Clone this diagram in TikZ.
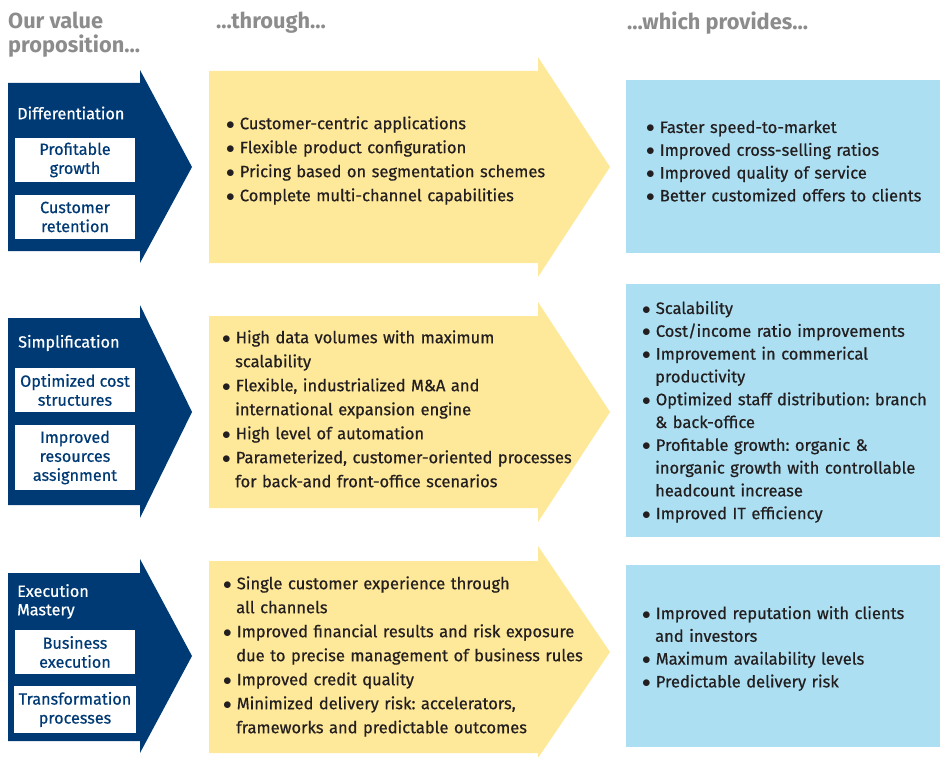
\documentclass[tikz,border=0pt]{standalone}
\usepackage{fontspec}
\setmainfont{Fira Sans}
\newfontfamily\semifont{Fira Sans}[FakeBold=0.6]
\usepackage{tikz}
\usetikzlibrary{positioning}

\definecolor{navy}{RGB}{0,58,117}
\definecolor{sand}{RGB}{254,232,153}
\definecolor{sky}{RGB}{172,223,242}
\definecolor{headgray}{RGB}{140,140,140}
\definecolor{ink}{RGB}{35,31,32}

% bullet list without extra space
\newenvironment{blist}{\begin{list}{$\bullet$}{\setlength{\leftmargin}{13pt}\setlength{\labelsep}{5pt}%
  \setlength{\labelwidth}{8pt}\setlength{\itemsep}{0pt}\setlength{\parsep}{0pt}%
  \setlength{\topsep}{0pt}\setlength{\partopsep}{0pt}}}{\end{list}}

\frenchspacing

\tikzset{
  header/.style={anchor=north west,inner sep=0pt,align=left,text=headgray,
    font=\bfseries\fontsize{21.8}{23.5}\selectfont},
  valuelabel/.style={anchor=west,inner sep=0pt,align=left,text=white,
    font=\semifont\fontsize{16.2}{18.5}\selectfont},
  valuebox/.style={fill=white,text=navy,align=center,inner sep=0pt,
    minimum width=120pt,font=\semifont\fontsize{16.2}{19}\selectfont},
  throughlist/.style={anchor=north west,inner sep=0pt,text width=380pt,text=ink,
    font=\semifont\fontsize{16.5}{24}\selectfont},
  provideslist/.style={anchor=north west,inner sep=0pt,text width=296pt,text=ink,
    font=\semifont\fontsize{16.5}{22.8}\selectfont}
}

\begin{document}
\begin{tikzpicture}[x=1pt,y=-1pt]
\useasboundingbox (0,0) rectangle (943,757);

% Define the columns
\pgfmathsetmacro{\Xleft}{8};
\pgfmathsetmacro{\Xneck}{140};
\pgfmathsetmacro{\Xtip}{192};
\pgfmathsetmacro{\Yleft}{209};
\pgfmathsetmacro{\Yneck}{538};
\pgfmathsetmacro{\Ytip}{610};

% column headers
\node[header] (hvalue) at (8,12) {Our value\\proposition...};
\node[header] (hthrough) at (216,12) {...through...};
\node[header] (hprovides) at (627,12) {...which provides...};

% draw the value arrows
\fill[navy] (\Xleft,83) -- (\Xneck,83) -- (\Xneck,70) -- (\Xtip,167)
            -- (\Xneck,263) -- (\Xneck,251) -- (\Xleft,251) -- cycle;
\fill[navy] (\Xleft,318) -- (\Xneck,318) -- (\Xneck,305) -- (\Xtip,412)
            -- (\Xneck,518) -- (\Xneck,505) -- (\Xleft,505) -- cycle;
\fill[navy] (\Xleft,573) -- (\Xneck,573) -- (\Xneck,559) -- (\Xtip,656)
            -- (\Xneck,753) -- (\Xneck,741) -- (\Xleft,741) -- cycle;

% draw the yellow arrows
\fill[sand] (\Yleft,71) -- (\Yneck,71) -- (\Yneck,57) -- (\Ytip,167)
            -- (\Yneck,277) -- (\Yneck,263) -- (\Yleft,263) -- cycle;
\fill[sand] (\Yleft,316) -- (\Yneck,316) -- (\Yneck,302) -- (\Ytip,412)
            -- (\Yneck,522) -- (\Yneck,508) -- (\Yleft,508) -- cycle;
\fill[sand] (\Yleft,561) -- (\Yneck,561) -- (\Yneck,546) -- (\Ytip,652)
            -- (\Yneck,758) -- (\Yneck,753) -- (\Yleft,753) -- cycle;

% draw the result boxes
\fill[sky] (626,80) rectangle (940,253);
\fill[sky] (626,284) rectangle (940,537);
\fill[sky] (626,565) rectangle (940,747);

%%%%%%%%%%%%%%%%%%%%%%%%%%%%%%%%%%%%%%%%%%%%%%%%%%%%%%%%%%%%%%%%%%%%%%%%%%%%
% Differentiation
\node[valuelabel] (diff) at (17,113) {Differentiation};
\node[valuebox,minimum height=44pt] (profit) at (75,160) {Profitable\\growth};
\node[valuebox,minimum height=44pt] (retain) at (75,217) {Customer\\retention};

\node[throughlist] (through1) at (226,105) {\begin{blist}
\item Customer-centric applications
\item Flexible product configuration
\item Pricing based on segmentation schemes
\item Complete multi-channel capabilities
\end{blist}};

\node[provideslist] (provides1) at (646,110) {\begin{blist}
\item Faster speed-to-market
\item Improved cross-selling ratios
\item Improved quality of service
\item Better customized offers to clients
\end{blist}};

%%%%%%%%%%%%%%%%%%%%%%%%%%%%%%%%%%%%%%%%%%%%%%%%%%%%%%%%%%%%%%%%%%%%%%%%%%%%
% Simplification
\node[valuelabel] (simpl) at (18,343) {Simplification};
\node[valuebox,minimum height=44pt] (cost) at (75,390) {Optimized cost\\structures};
\node[valuebox,minimum height=65pt] (resource) at (75,457.5) {Improved\\resources\\assignment};

\node[throughlist] (through2) at (222,319) {\begin{blist}
\item High data volumes with maximum\newline scalability
\item Flexible, industrialized M\&A and\newline international expansion engine
\item High level of automation
\item Parameterized, customer-oriented processes\newline for back-and front-office scenarios
\end{blist}};

\node[provideslist] (provides2) at (642,291) {\begin{blist}
\item Scalability
\item Cost/income ratio improvements
\item Improvement in commerical\newline productivity
\item Optimized staff distribution: branch\newline \& back-office
\item Profitable growth: organic \&\newline inorganic growth with controllable\newline headcount increase
\item Improved IT efficiency
\end{blist}};

%%%%%%%%%%%%%%%%%%%%%%%%%%%%%%%%%%%%%%%%%%%%%%%%%%%%%%%%%%%%%%%%%%%%%%%%%%%%
% Execution Mastery
\node[valuelabel,anchor=north west] (exec) at (17,584) {Execution\\Mastery};
\node[valuebox,minimum height=44pt] (business) at (75,652) {Business\\execution};
\node[valuebox,minimum height=47pt,minimum width=122pt] (transform) at (75,709.5) {Transformation\\processes};

\node[throughlist] (through3) at (223,565) {\begin{blist}
\item Single customer experience through\newline all channels
\item Improved financial results and risk exposure\newline due to precise management of business rules
\item Improved credit quality
\item Minimized delivery risk: accelerators,\newline frameworks and predictable outcomes
\end{blist}};

\node[provideslist] (provides3) at (642,596) {\begin{blist}
\item Improved reputation with clients\newline and investors
\item Maximum availability levels
\item Predictable delivery risk
\end{blist}};
\end{tikzpicture}
\end{document}
